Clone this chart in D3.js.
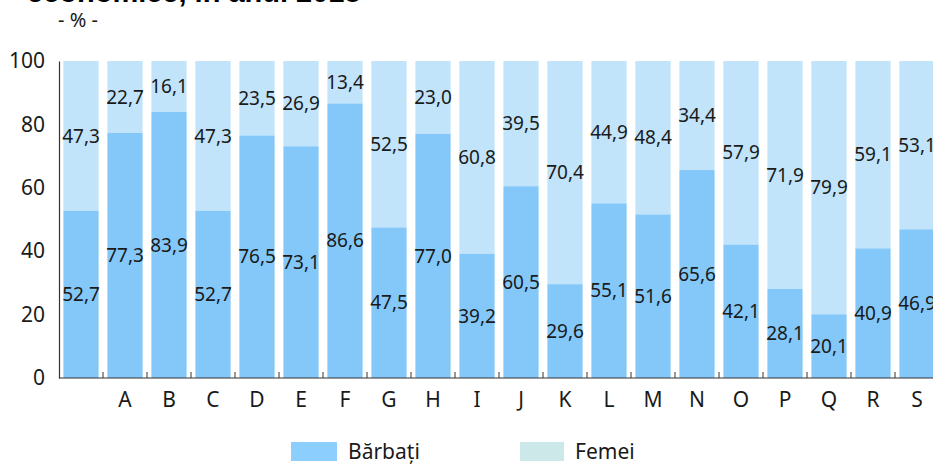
<!DOCTYPE html>
<html>
<head>
<meta charset="utf-8">
<script src="https://cdn.jsdelivr.net/npm/d3@7"></script>
<style>
  html, body { margin: 0; padding: 0; background: #fff; }
  svg { display: block; font-family: "Noto Sans", "Open Sans", sans-serif; }
</style>
</head>
<body>
<svg id="chart" width="933" height="464"></svg>
<script>
// categorii: primul = total economie (fara eticheta)
const categorii = ["", "A", "B", "C", "D", "E", "F", "G", "H", "I", "J", "K", "L", "M", "N", "O", "P", "Q", "R", "S"];
const barbati = [52.7, 77.3, 83.9, 52.7, 76.5, 73.1, 86.6, 47.5, 77.0, 39.2, 60.5, 29.6, 55.1, 51.6, 65.6, 42.1, 28.1, 20.1, 40.9, 46.9];
const femei = [47.3, 22.7, 16.1, 47.3, 23.5, 26.9, 13.4, 52.5, 23.0, 60.8, 39.5, 70.4, 44.9, 48.4, 34.4, 57.9, 71.9, 79.9, 59.1, 53.1];
const yTicks = [0, 20, 40, 60, 80, 100];

const culoareBarbati = "#84c8fa";
const culoareFemei = "#c1e4fb";
const fmt = (v) => v.toFixed(1).replace(".", ",");

const svg = d3.select("#chart");

const x0 = 59;
const step = 44;
const x = d3.scaleBand()
  .domain(categorii.map((c, i) => i))
  .range([x0, x0 + step * categorii.length])
  .paddingInner(0.2)
  .paddingOuter(0.1);

const y = d3.scaleLinear().domain([0, 100]).range([378, 61]);

// titlu (taiat sus)
svg.append("text")
  .attr("x", 27)
  .attr("y", 2)
  .attr("font-family", "Liberation Sans, Arial, sans-serif")
  .attr("font-weight", "bold")
  .attr("font-size", 29)
  .attr("fill", "#000")
  .text("economice, în anul 2018");

svg.append("text")
  .attr("x", 58)
  .attr("y", 27)
  .attr("font-size", 20)
  .attr("fill", "#1a1a1a")
  .text("- % -");

const date = categorii.map((c, i) => ({ i, cat: c, b: barbati[i], f: femei[i] }));

// bare femei (partea de sus)
svg.append("g")
  .selectAll("rect")
  .data(date)
  .join("rect")
  .attr("x", (d) => x(d.i))
  .attr("width", x.bandwidth())
  .attr("y", (d) => y(d.b + d.f))
  .attr("height", (d) => y(d.b) - y(d.b + d.f))
  .attr("fill", culoareFemei);

svg.append("g")
  .selectAll("rect")
  .data(date)
  .join("rect")
  .attr("x", (d) => x(d.i))
  .attr("width", x.bandwidth())
  .attr("y", (d) => y(d.b))
  .attr("height", (d) => y(0) - y(d.b))
  .attr("fill", culoareBarbati);

// etichete valori
const etichete = svg.append("g")
  .attr("font-size", 19)
  .attr("fill", "#1a1a1a")
  .attr("text-anchor", "middle");

etichete.selectAll("text.b")
  .data(date)
  .join("text")
  .attr("class", "b")
  .attr("x", (d) => x(d.i) + x.bandwidth() / 2)
  .attr("y", (d) => y(d.b / 2))
  .attr("dy", "0.35em")
  .text((d) => fmt(d.b));

etichete.selectAll("text.f")
  .data(date)
  .join("text")
  .attr("class", "f")
  .attr("x", (d) => x(d.i) + x.bandwidth() / 2)
  .attr("y", (d) => y(d.b + d.f / 2))
  .attr("dy", "0.35em")
  .text((d) => fmt(d.f));

// axa Y
const yAxis = svg.append("g")
  .attr("transform", `translate(${x0},0)`)
  .call(d3.axisLeft(y).tickValues(yTicks).tickSize(0).tickPadding(14));
yAxis.select(".domain").attr("stroke", "#333").attr("stroke-width", 1.2);
yAxis.selectAll("text")
  .attr("font-family", "Noto Sans, sans-serif")
  .attr("font-size", 21)
  .attr("fill", "#1a1a1a");

// axa X
svg.append("line")
  .attr("x1", x0)
  .attr("x2", 933)
  .attr("y1", y(0))
  .attr("y2", y(0))
  .attr("stroke", "#333")
  .attr("stroke-width", 1.2);

svg.append("g")
  .selectAll("line")
  .data(date.slice(1))
  .join("line")
  .attr("x1", (d) => x(d.i) - x.step() * x.paddingInner() / 2)
  .attr("x2", (d) => x(d.i) - x.step() * x.paddingInner() / 2)
  .attr("y1", y(0))
  .attr("y2", y(0) - 6)
  .attr("stroke", "#333")
  .attr("stroke-width", 1);

svg.append("g")
  .attr("font-size", 21)
  .attr("fill", "#1a1a1a")
  .attr("text-anchor", "middle")
  .selectAll("text")
  .data(date)
  .join("text")
  .attr("x", (d) => x(d.i) + x.bandwidth() / 2)
  .attr("y", 407)
  .text((d) => d.cat);

// legenda
const legenda = [
  { nume: "Bărbați", culoare: "#8ccffe", x: 291, w: 46 },
  { nume: "Femei", culoare: "#cce8e9", x: 520, w: 44 }
];
const lg = svg.append("g");
lg.selectAll("rect")
  .data(legenda)
  .join("rect")
  .attr("x", (d) => d.x)
  .attr("y", 442)
  .attr("width", (d) => d.w)
  .attr("height", 19)
  .attr("fill", (d) => d.culoare);
lg.selectAll("text")
  .data(legenda)
  .join("text")
  .attr("x", (d) => d.x + d.w + 11)
  .attr("y", 459)
  .attr("font-size", 21)
  .attr("fill", "#1a1a1a")
  .text((d) => d.nume);
</script>
</body>
</html>
